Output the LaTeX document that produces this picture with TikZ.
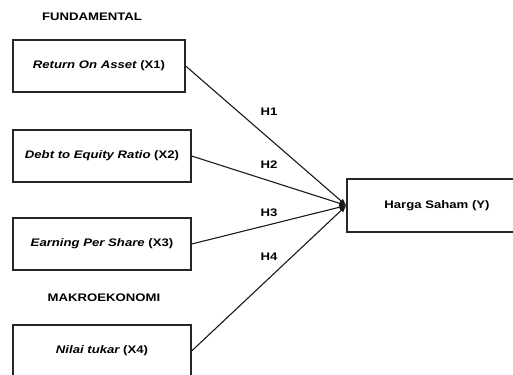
\documentclass[tikz,border=0pt]{standalone}
\usepackage{fontspec}
\setmainfont{Liberation Sans}[FakeStretch=1.2]
\usepackage{tikz}
\usetikzlibrary{positioning,arrows.meta}

\begin{document}
\begin{tikzpicture}[x=1bp,y=-1bp,
  varbox/.style={draw=black!85, line width=1.3pt, minimum height=52bp, inner sep=0pt},
  hlabel/.style={font=\fontsize{11}{13}\selectfont\bfseries},
  grouplabel/.style={font=\fontsize{11}{13}\selectfont\bfseries},
  arr/.style={draw=black!90, line width=1.1pt, -{Latex[length=7pt,width=6pt]}}]
\useasboundingbox (0,0) rectangle (513,374);

\node[grouplabel] (fund) at (92,17) {FUNDAMENTAL};
\node[varbox, minimum width=172bp] (x1) at (99,66) {\fontsize{11}{13}\selectfont\bfseries\itshape Return On Asset \upshape(X1)};
\node[varbox, minimum width=178bp] (x2) at (102,156) {\fontsize{11}{13}\selectfont\bfseries\itshape Debt to Equity Ratio \upshape(X2)};
\node[varbox, minimum width=178bp] (x3) at (102,244) {\fontsize{11}{13}\selectfont\bfseries\itshape Earning Per Share \upshape(X3)};
\node[grouplabel] (makro) at (104,298) {MAKROEKONOMI};
\node[varbox, minimum width=178bp] (x4) at (102,351) {\fontsize{11}{13}\selectfont\bfseries\itshape Nilai tukar \upshape(X4)};

\node[varbox, minimum width=180bp, minimum height=53bp] (y) at (437,205.5) {\fontsize{11}{13}\selectfont\bfseries Harga Saham (Y)};

\draw[arr] (x1.east) -- (y.west);
\draw[arr] (x2.east) -- (y.west);
\draw[arr] (x3.east) -- (y.west);
\draw[arr] (x4.east) -- (y.west);

\node[hlabel] (h1) at (269,112) {H1};
\node[hlabel] (h2) at (269,165) {H2};
\node[hlabel] (h3) at (269,213) {H3};
\node[hlabel] (h4) at (269,257) {H4};
\end{tikzpicture}
\end{document}
